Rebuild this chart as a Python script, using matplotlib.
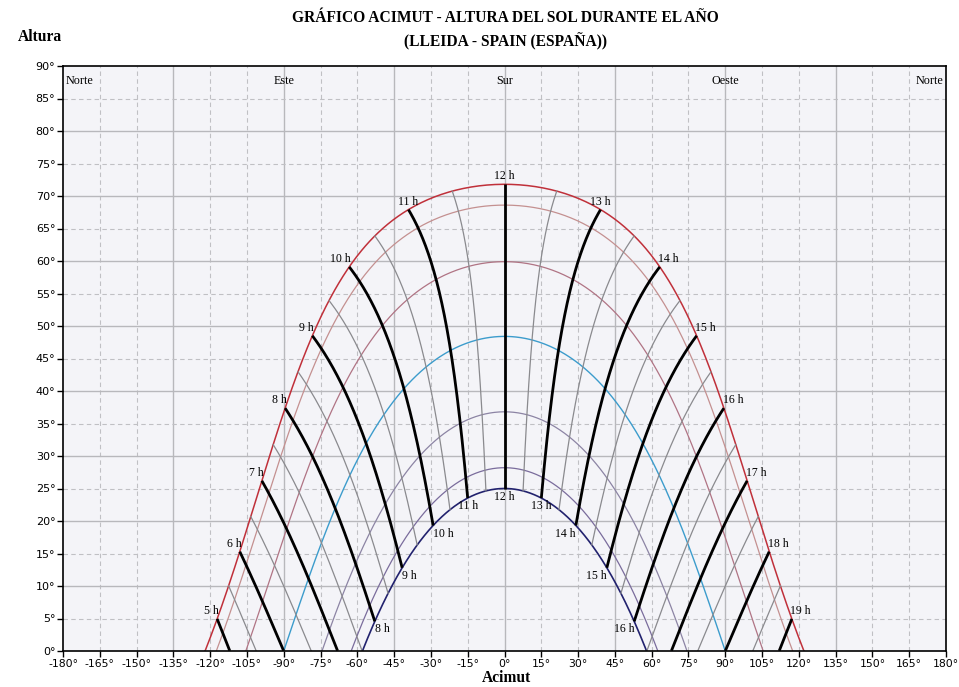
import numpy as np
import matplotlib
matplotlib.use('Agg')
import matplotlib.pyplot as plt

# ---- data ----
latitude = 41.6                      # Lleida (equinox noon altitude 48.4°)
noon_altitudes = [71.8, 68.6, 59.9, 48.4, 36.8, 28.2, 25.0]   # one per day curve
curve_colors = ['#c0303a', '#c49090', '#b07484', '#3c9ccc', '#8c84a4', '#7a6c9c', '#22226e']
curve_widths = [1.1, 0.9, 0.9, 1.0, 0.9, 0.9, 1.2]
full_hours = list(range(5, 20))
half_hours = [h + 0.5 for h in range(4, 20)]
direction_labels = ['Norte', 'Este', 'Sur', 'Oeste', 'Norte']
direction_az = [-180, -90, 0, 90, 180]
x_ticks = list(range(-180, 181, 15))
y_ticks = list(range(0, 91, 5))
title_lines = ['GRÁFICO ACIMUT - ALTURA DEL SOL DURANTE EL AÑO',
               '(LLEIDA - SPAIN (ESPAÑA))']

declinations = [a - (90 - latitude) for a in noon_altitudes]


def sun_position(hour_angle, dec):
    phi = np.radians(latitude)
    d = np.radians(dec)
    H = np.radians(hour_angle)
    sin_alt = np.sin(phi) * np.sin(d) + np.cos(phi) * np.cos(d) * np.cos(H)
    alt = np.degrees(np.arcsin(np.clip(sin_alt, -1, 1)))
    az = np.degrees(np.arctan2(np.sin(H), np.cos(H) * np.sin(phi) - np.tan(d) * np.cos(phi)))
    return az, alt


fig = plt.figure(figsize=(9.59, 6.87), dpi=100)
ax = fig.add_axes([63 / 959, 36 / 687, 883 / 959, 585 / 687])
ax.set_facecolor('#f4f4f8')
ax.set_xlim(-180, 180)
ax.set_ylim(0, 90)

# grid
for x in x_ticks[1:-1]:
    if x % 45 == 0:
        ax.axvline(x, color='#b8b8bc', lw=1.0, zorder=0)
    else:
        ax.axvline(x, color='#c0c0c4', lw=0.8, ls=(0, (4, 3)), zorder=0)
for y in y_ticks[1:-1]:
    if y % 10 == 0:
        ax.axhline(y, color='#b8b8bc', lw=1.0, zorder=0)
    else:
        ax.axhline(y, color='#c0c0c4', lw=0.8, ls=(0, (4, 3)), zorder=0)

# day curves
for dec, col, lw in zip(declinations, curve_colors, curve_widths):
    h0 = np.degrees(np.arccos(np.clip(-np.tan(np.radians(latitude)) * np.tan(np.radians(dec)), -1, 1)))
    H = np.linspace(-h0, h0, 600)
    az, alt = sun_position(H, dec)
    ax.plot(az, alt, color=col, lw=lw, zorder=2)

dec_range = np.linspace(min(declinations), max(declinations), 600)

# half-hour lines
for h in half_hours:
    az, alt = sun_position(15 * (h - 12), dec_range)
    m = alt >= 0
    if m.sum() > 1:
        ax.plot(az[m], alt[m], color='#8a8a8e', lw=0.9, zorder=3)

# full-hour lines and labels
lab_font = dict(family='Liberation Serif', fontsize=8.5, color='black')
for h in full_hours:
    az, alt = sun_position(15 * (h - 12), dec_range)
    m = alt >= 0
    if m.sum() > 1:
        ax.plot(az[m], alt[m], color='black', lw=2.0, zorder=4, solid_capstyle='butt')
    # summer label
    az_s, alt_s = sun_position(15 * (h - 12), max(declinations))
    if alt_s > 0:
        if h < 11:
            ha, dx = 'right', 1
        elif h > 13:
            ha, dx = 'left', -1
        else:
            ha, dx = 'center', 0
        ax.annotate(f'{h} h', (az_s, alt_s), xytext=(dx, 1.5), textcoords='offset points',
                    ha=ha, va='bottom', zorder=6, **lab_font)
    # winter label
    az_w, alt_w = sun_position(15 * (h - 12), min(declinations))
    if alt_w > 0:
        if h < 11:
            ha = 'left'
        elif h > 13:
            ha = 'right'
        else:
            ha = 'center'
        ax.annotate(f'{h} h', (az_w, alt_w), xytext=(0, -1.5), textcoords='offset points',
                    ha=ha, va='top', zorder=6, **lab_font)

# direction labels
for lab, az in zip(direction_labels, direction_az):
    ha = 'left' if az == -180 else ('right' if az == 180 else 'center')
    ax.text(az + (1 if az == -180 else (-1 if az == 180 else 0)), 87.7, lab, ha=ha, va='center',
            family='Liberation Serif', fontsize=8.7, zorder=6)

# axes styling
ax.set_xticks(x_ticks)
ax.set_xticklabels([f'{v}°' for v in x_ticks])
ax.set_yticks(y_ticks)
ax.set_yticklabels([f'{v}°' for v in y_ticks])
ax.tick_params(axis='both', direction='out', length=4, width=1, labelsize=8, pad=1.5, colors='black')
for lab in ax.get_xticklabels() + ax.get_yticklabels():
    lab.set_family('DejaVu Sans')
ax.tick_params(axis='x', labelsize=7.8)
for s in ax.spines.values():
    s.set_color('black')
    s.set_linewidth(1.2)
    s.set_zorder(7)

# titles
tfont = dict(family='Liberation Serif', fontsize=11.2, fontweight='bold')
fig.text(505 / 959, 1 - 18 / 687, title_lines[0], ha='center', va='center', **tfont)
fig.text(505 / 959, 1 - 42 / 687, title_lines[1], ha='center', va='center', **tfont)
fig.text(18 / 959, 1 - 37 / 687, 'Altura', ha='left', va='center', **tfont)
fig.text(506 / 959, 1 - 678 / 687, 'Acimut', ha='center', va='center', **tfont)

fig.savefig('out.png', dpi=100, facecolor='white')
